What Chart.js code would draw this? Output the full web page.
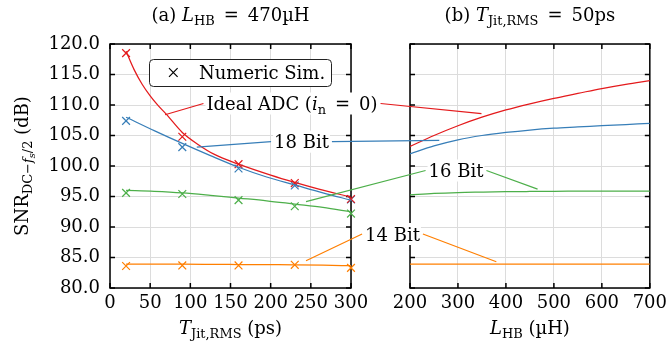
<!DOCTYPE html>
<html lang="en">
<head>
<meta charset="utf-8">
<title>SNR vs jitter and inductance</title>
<script src="https://cdn.jsdelivr.net/npm/chart.js@4.4.0/dist/chart.umd.min.js"></script>
<style>
  body { margin: 0; background: #fff; }
  #wrap { position: relative; width: 672px; height: 349px; }
  canvas { position: absolute; left: 0; top: 0; }
</style>
</head>
<body>
<div id="wrap">
  <canvas id="left" width="672" height="349"></canvas>
  <canvas id="right" width="672" height="349"></canvas>
</div>
<script>
  // (a) sweep over jitter, L_HB = 470uH
  const simJitter = [20, 90, 160, 230, 300];
  const simIdeal = [118.5, 104.8, 100.3, 97.2, 94.6];
  const sim18 = [107.4, 103.1, 99.6, 96.8, 94.5];
  const sim16 = [95.6, 95.4, 94.4, 93.4, 92.2];
  const sim14 = [83.6, 83.7, 83.7, 83.8, 83.3];

  const idealJitter = [20, 30, 40, 50, 60, 70, 90, 110, 130, 160, 200, 230, 260, 300];
  const idealVsJitter = [118.8, 115.8, 113.4, 111.5, 109.9, 108.5, 105.5, 103.5, 101.9, 100.3, 98.5, 97.3, 96.2, 94.9];
  const bitsJitter = [20, 55, 90, 125, 160, 195, 230, 265, 300];
  const b18VsJitter = [108.0, 105.8, 103.7, 101.7, 99.8, 98.2, 96.9, 95.6, 94.4];
  const b16VsJitter = [96.0, 95.85, 95.6, 95.2, 94.75, 94.3, 93.75, 93.2, 92.5];
  const b14VsJitter = [83.9, 83.9, 83.9, 83.88, 83.85, 83.82, 83.8, 83.75, 83.65];

  // (b) sweep over inductance, T_jit = 50ps
  const inductance = [200, 250, 300, 350, 400, 450, 500, 550, 600, 650, 700];
  const idealVsL = [103.2, 105.0, 106.6, 108.0, 109.2, 110.2, 111.1, 111.9, 112.7, 113.4, 114.0];
  const b18VsL = [102.0, 103.3, 104.3, 105.0, 105.5, 105.9, 106.2, 106.4, 106.6, 106.8, 107.0];
  const b16VsL = [95.25, 95.5, 95.65, 95.72, 95.78, 95.82, 95.85, 95.87, 95.89, 95.9, 95.9];
  const b14VsL = [83.9, 83.9, 83.9, 83.9, 83.9, 83.9, 83.9, 83.9, 83.9, 83.9, 83.9];

  const FONT = "'DejaVu Serif'";
  const SIZE = 18;
  const EQ = '\u2002=\u2002';
  const RED = '#e41a1c', BLUE = '#377eb8', GREEN = '#4daf4a', ORANGE = '#ff7f00';

  function pts(xs, ys) { return xs.map((x, i) => ({x: x, y: ys[i]})); }
  function curve(xs, ys, color) {
    return { data: pts(xs, ys), showLine: true, borderColor: color, borderWidth: 1.25,
             pointRadius: 0, cubicInterpolationMode: 'monotone', fill: false };
  }
  function marks(xs, ys, color) {
    return { data: pts(xs, ys), showLine: false, borderColor: color, backgroundColor: color,
             pointStyle: 'crossRot', pointRadius: 5.5, borderWidth: 1.2, clip: false };
  }

  // rich text: [text, italic, level] level 0 normal, 1 sub, 2 subsub
  function layoutRich(ctx, parts, size) {
    let w = 0;
    const items = parts.map(p => {
      const lv = p[2] || 0;
      const s = size * [1, 0.72, 0.55][lv];
      const f = (p[1] ? 'italic ' : '') + s + 'px ' + FONT;
      ctx.font = f;
      const it = { t: p[0], f: f, x: w, dy: [0, 0.24, 0.4][lv] * size };
      w += ctx.measureText(p[0]).width;
      return it;
    });
    return { items: items, w: w };
  }
  function drawRich(ctx, parts, x, y, size, align) {
    const L = layoutRich(ctx, parts, size);
    const x0 = align === 'center' ? x - L.w / 2 : (align === 'right' ? x - L.w : x);
    ctx.textAlign = 'left';
    ctx.textBaseline = 'alphabetic';
    L.items.forEach(it => { ctx.font = it.f; ctx.fillText(it.t, x0 + it.x, y + it.dy); });
    return L.w;
  }

  function scales(xMin, xMax, xStep, showY, leftW) {
    const grid = { color: '#dcdcdc', lineWidth: 1, drawTicks: false };
    return {
      x: { type: 'linear', min: xMin, max: xMax, grid: grid, border: { display: false },
           ticks: { stepSize: xStep, autoSkip: false, maxRotation: 0, padding: 5, color: '#000',
                    font: { family: FONT, size: SIZE } },
           afterFit: s => { s.height = 61; } },
      y: { type: 'linear', min: 80, max: 120, grid: grid, border: { display: false },
           ticks: { stepSize: 5, display: showY, padding: 10, color: '#000',
                    font: { family: FONT, size: SIZE }, callback: v => v.toFixed(1) },
           afterFit: s => { s.width = leftW; } }
    };
  }

  const framePlugin = {
    id: 'frame',
    beforeDatasetsDraw(chart) {
      const ctx = chart.ctx, a = chart.chartArea, sx = chart.scales.x, sy = chart.scales.y;
      ctx.save();
      ctx.strokeStyle = '#000';
      ctx.lineWidth = 1.5;
      ctx.strokeRect(a.left, a.top, a.right - a.left, a.bottom - a.top);
      ctx.beginPath();
      sy.ticks.forEach(t => {
        const p = sy.getPixelForValue(t.value);
        ctx.moveTo(a.left, p); ctx.lineTo(a.left + 5, p);
        ctx.moveTo(a.right, p); ctx.lineTo(a.right - 5, p);
      });
      sx.ticks.forEach(t => {
        const p = sx.getPixelForValue(t.value);
        ctx.moveTo(p, a.top); ctx.lineTo(p, a.top + 5);
        ctx.moveTo(p, a.bottom); ctx.lineTo(p, a.bottom - 5);
      });
      ctx.stroke();
      ctx.restore();
    }
  };

  const leftChart = new Chart(document.getElementById('left'), {
    type: 'scatter',
    data: { datasets: [
      curve(idealJitter, idealVsJitter, RED),
      curve(bitsJitter, b18VsJitter, BLUE),
      curve(bitsJitter, b16VsJitter, GREEN),
      curve(bitsJitter, b14VsJitter, ORANGE),
      marks(simJitter, simIdeal, RED),
      marks(simJitter, sim18, BLUE),
      marks(simJitter, sim16, GREEN),
      marks(simJitter, sim14, ORANGE)
    ] },
    options: {
      responsive: false, animation: false,
      layout: { padding: { top: 44, right: 321, bottom: 0, left: 0 } },
      plugins: { legend: { display: false }, tooltip: { enabled: false } },
      scales: scales(0, 300, 50, true, 110)
    },
    plugins: [framePlugin]
  });

  // callouts: label centre in px, anchors in data units of each panel
  const callouts = [
    { parts: [['Ideal ADC (', 0, 0], ['i', 1, 0], ['n', 0, 1], [EQ + '0)', 0, 0]],
      cx: 292, cy: 103.5, color: RED, a: [68.5, 108.4], b: [349, 108.6] },
    { parts: [['18 Bit', 0, 0]], cx: 301.5, cy: 141.7, color: BLUE, a: [108, 103.1], b: [261, 104.2] },
    { parts: [['16 Bit', 0, 0]], cx: 456, cy: 170.5, color: GREEN, a: [244, 94.15], b: [466, 96.2] },
    { parts: [['14 Bit', 0, 0]], cx: 392.5, cy: 234, color: ORANGE, a: [244, 84.48], b: [380, 84.3] }
  ];

  const overlayPlugin = {
    id: 'overlay',
    afterDraw(chart) {
      const ctx = chart.ctx;
      const L = leftChart.scales, R = chart.scales;
      ctx.save();

      // legend box
      ctx.beginPath();
      ctx.roundRect(149.5, 59.5, 182, 27, 4);
      ctx.fillStyle = '#fff';
      ctx.fill();
      ctx.strokeStyle = '#222';
      ctx.lineWidth = 1;
      ctx.stroke();
      ctx.beginPath();
      ctx.moveTo(169, 68.2); ctx.lineTo(177.6, 76.8);
      ctx.moveTo(177.6, 68.2); ctx.lineTo(169, 76.8);
      ctx.strokeStyle = '#000';
      ctx.lineWidth = 1.2;
      ctx.stroke();
      ctx.fillStyle = '#000';
      drawRich(ctx, [['Numeric Sim.', 0, 0]], 199, 79, SIZE, 'left');

      // callouts
      callouts.forEach(c => {
        const w = layoutRich(ctx, c.parts, SIZE).w;
        const ax = L.x.getPixelForValue(c.a[0]), ay = L.y.getPixelForValue(c.a[1]);
        const bx = R.x.getPixelForValue(c.b[0]), by = R.y.getPixelForValue(c.b[1]);
        ctx.beginPath();
        ctx.moveTo(ax, ay); ctx.lineTo(c.cx - w / 2 - 3, c.cy);
        ctx.moveTo(c.cx + w / 2 + 3, c.cy); ctx.lineTo(bx, by);
        ctx.strokeStyle = c.color;
        ctx.lineWidth = 1.2;
        ctx.stroke();
        ctx.fillStyle = '#fff';
        ctx.fillRect(c.cx - w / 2 - 1, c.cy - 11, w + 2, 22);
        ctx.fillStyle = '#000';
        drawRich(ctx, c.parts, c.cx, c.cy + 6.5, SIZE, 'center');
      });

      // titles and axis labels
      const la = leftChart.chartArea, ra = chart.chartArea;
      drawRich(ctx, [['(a) ', 0, 0], ['L', 1, 0], ['HB', 0, 1], [EQ + '470µH', 0, 0]],
               (la.left + la.right) / 2, 21, SIZE, 'center');
      drawRich(ctx, [['(b) ', 0, 0], ['T', 1, 0], ['Jit,RMS', 0, 1], [EQ + '50ps', 0, 0]],
               (ra.left + ra.right) / 2, 21, SIZE, 'center');
      drawRich(ctx, [['T', 1, 0], ['Jit,RMS', 0, 1], [' (ps)', 0, 0]],
               (la.left + la.right) / 2, 334, SIZE, 'center');
      drawRich(ctx, [['L', 1, 0], ['HB', 0, 1], [' (µH)', 0, 0]],
               (ra.left + ra.right) / 2, 334, SIZE, 'center');
      ctx.translate(28, (la.top + la.bottom) / 2);
      ctx.rotate(-Math.PI / 2);
      drawRich(ctx, [['SNR', 0, 0], ['DC−', 0, 1], ['f', 1, 1], ['s', 1, 2], ['/2', 0, 1], [' (dB)', 0, 0]],
               0, 0, SIZE, 'center');
      ctx.restore();
    }
  };

  const rightChart = new Chart(document.getElementById('right'), {
    type: 'scatter',
    data: { datasets: [
      curve(inductance, idealVsL, RED),
      curve(inductance, b18VsL, BLUE),
      curve(inductance, b16VsL, GREEN),
      curve(inductance, b14VsL, ORANGE)
    ] },
    options: {
      responsive: false, animation: false,
      layout: { padding: { top: 44, right: 21, bottom: 0, left: 410 } },
      plugins: { legend: { display: false }, tooltip: { enabled: false } },
      scales: scales(200, 700, 100, false, 0)
    },
    plugins: [framePlugin, overlayPlugin]
  });
</script>
</body>
</html>
